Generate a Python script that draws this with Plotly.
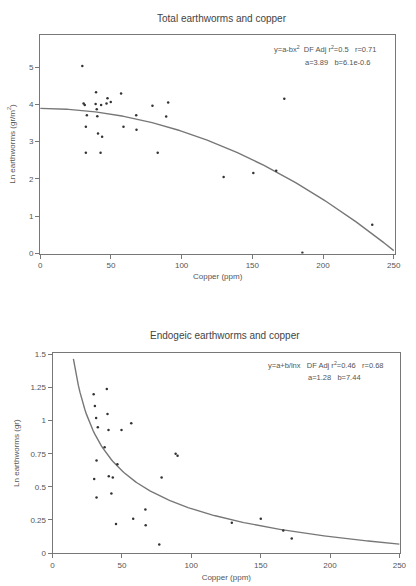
import numpy as np
import plotly.graph_objects as go

# Top panel: total earthworms vs copper
top_cu = [29.8, 30.7, 31.5, 39.5, 39.2, 40.0, 40.4, 33.0, 32.3, 40.9, 43.8, 43.1, 46.9, 47.6,
          49.9, 57.2, 58.9, 67.9, 68.1, 79.4, 90.5, 89.1, 172.6, 32.3, 42.7, 83.1, 129.7,
          150.7, 166.9, 185.4, 234.8]
top_ln = [5.03, 4.02, 3.98, 4.32, 4.01, 3.87, 3.68, 3.71, 3.40, 3.22, 3.13, 3.98, 4.02, 4.16,
          4.06, 4.29, 3.40, 3.71, 3.32, 3.96, 4.05, 3.67, 4.15, 2.70, 2.70, 2.70, 2.05,
          2.16, 2.22, 0.02, 0.77]
top_a = 3.89
top_b = 6.1e-5

# Bottom panel: endogeic earthworms vs copper
bot_cu = [29.6, 39.1, 30.5, 31.4, 39.6, 32.6, 40.3, 49.7, 56.7, 37.5, 31.7, 46.7, 88.7, 90.1,
          30.0, 40.5, 43.4, 78.6, 31.7, 42.4, 66.9, 58.1, 67.1, 45.7, 76.9, 129.2, 150.1,
          166.3, 172.4]
bot_ln = [1.20, 1.24, 1.11, 1.02, 1.05, 0.95, 0.93, 0.93, 0.98, 0.80, 0.70, 0.67, 0.75, 0.735,
          0.56, 0.58, 0.57, 0.57, 0.42, 0.45, 0.33, 0.26, 0.21, 0.22, 0.065, 0.23, 0.26,
          0.17, 0.11]
bot_a = 1.28
bot_b = 7.44

x_ticks = [0, 50, 100, 150, 200, 250]
top_y_ticks = [0, 1, 2, 3, 4, 5]
bot_y_ticks = [0, 0.25, 0.5, 0.75, 1, 1.25, 1.5]
bot_y_labels = ["0", "0.25", "0.5", "0.75", "1", "1.25", "1.5"]

font = "Liberation Sans, Arial, sans-serif"
txt = "#555"
pt = "#333"
ln = "#777"

fig = go.Figure()

xc1 = np.linspace(0, 250, 200)
fig.add_trace(go.Scatter(x=xc1, y=top_a - top_b * xc1 ** 2, mode="lines",
                         line=dict(color=ln, width=1.4), xaxis="x", yaxis="y", showlegend=False))
fig.add_trace(go.Scatter(x=top_cu, y=top_ln, mode="markers",
                         marker=dict(color=pt, size=2.5), xaxis="x", yaxis="y", showlegend=False))

xc2 = np.linspace(15, 250, 200)
fig.add_trace(go.Scatter(x=xc2, y=bot_b / np.log(xc2) - bot_a, mode="lines",
                         line=dict(color=ln, width=1.4), xaxis="x2", yaxis="y2", showlegend=False))
fig.add_trace(go.Scatter(x=bot_cu, y=bot_ln, mode="markers",
                         marker=dict(color=pt, size=2.5), xaxis="x2", yaxis="y2", showlegend=False))

axis_common = dict(showgrid=False, zeroline=False, showline=True, linecolor="#777",
                   linewidth=1, mirror=True, ticks="outside", ticklen=4, tickcolor="#777",
                   tickfont=dict(family=font, size=8, color=txt))

fig.update_layout(
    width=416, height=586,
    margin=dict(l=0, r=0, t=0, b=0),
    paper_bgcolor="white", plot_bgcolor="white",
    font=dict(family=font, color=txt),
    xaxis=dict(domain=[0.0938, 0.966], range=[0, 251], tickvals=x_ticks, anchor="y",
               title=dict(text="Copper (ppm)", font=dict(size=8, family=font, color=txt), standoff=4),
               **axis_common),
    yaxis=dict(domain=[0.5666, 0.9454], range=[0, 5.87], tickvals=top_y_ticks, anchor="x",
               title=dict(text="Ln earthworms (gr/m<sup>2</sup>)", font=dict(size=8, family=font, color=txt), standoff=12),
               **axis_common),
    xaxis2=dict(domain=[0.1243, 0.978], range=[0, 250.5], tickvals=x_ticks, anchor="y2",
                title=dict(text="Copper (ppm)", font=dict(size=8, family=font, color=txt), standoff=5),
                **axis_common),
    yaxis2=dict(domain=[0.0483, 0.3942], range=[0, 1.51], tickvals=bot_y_ticks, ticktext=bot_y_labels,
                anchor="x2",
                title=dict(text="Ln earthworms (gr)", font=dict(size=8, family=font, color=txt), standoff=9),
                **axis_common),
)

ann = []
ann.append(dict(text="Total earthworms and copper", x=225, y=16, showarrow=False,
                font=dict(size=10, family=font, color="#444")))
ann.append(dict(text="Endogeic earthworms and copper", x=228, y=337, showarrow=False,
                font=dict(size=10, family=font, color="#444")))
ann.append(dict(text="y=a-bx<sup>2</sup>  DF Adj r<sup>2</sup>=0.5   r=0.71", x=330, y=47, showarrow=False,
                font=dict(size=7.5, family=font, color=txt)))
ann.append(dict(text="a=3.89   b=6.1e-0.6", x=343, y=60, showarrow=False,
                font=dict(size=7.5, family=font, color=txt)))
ann.append(dict(text="y=a+b/lnx   DF Adj r<sup>2</sup>=0.46   r=0.68", x=331, y=367, showarrow=False,
                font=dict(size=7.5, family=font, color=txt)))
ann.append(dict(text="a=1.28   b=7.44", x=340, y=380, showarrow=False,
                font=dict(size=7.5, family=font, color=txt)))

# convert pixel positions to paper coords
for a in ann:
    a["xref"] = "paper"
    a["yref"] = "paper"
    a["x"] = a["x"] / 416
    a["y"] = 1 - a["y"] / 586
    a["xanchor"] = "center"
    a["yanchor"] = "middle"
fig.update_layout(annotations=ann)

fig.write_html("out.html", config={"displayModeBar": False},
               post_script="document.body.style.margin='0';document.body.style.overflow='hidden';")
